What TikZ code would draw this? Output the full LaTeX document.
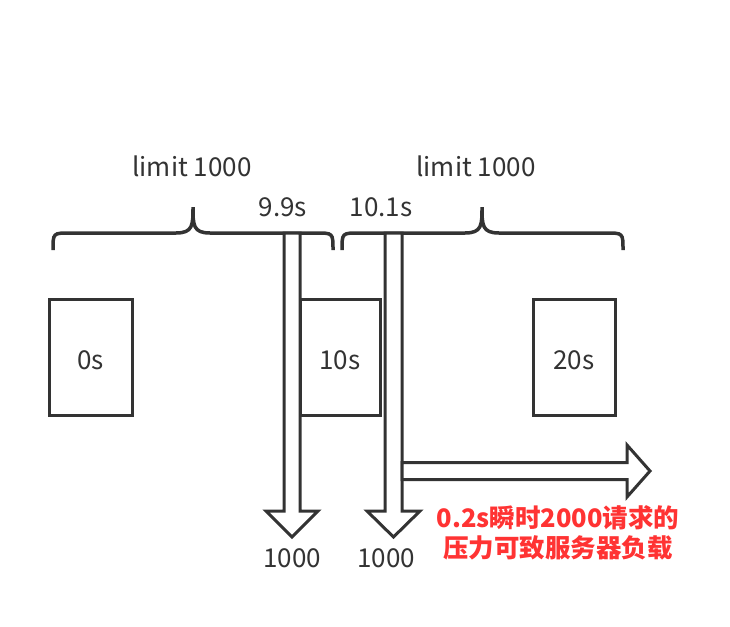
\documentclass[tikz,border=0pt]{standalone}
\usepackage{fontspec}
\setmainfont{Noto Sans CJK SC}
\definecolor{ln}{HTML}{333333}
\definecolor{rd}{HTML}{FF3333}
\begin{document}
\begin{tikzpicture}[x=1pt,y=-1pt]
\useasboundingbox[fill=white] (0,0) rectangle (730,626);
\tikzset{
  box/.style={draw=ln, fill=white, line width=3pt, minimum height=116pt, inner sep=0pt},
  lbl/.style={text=ln, inner sep=0pt, font=\fontsize{26}{30}\selectfont},
  note/.style={text=rd, inner sep=0pt, align=center, font=\bfseries\fontsize{25.5}{30}\selectfont},
  brace/.style={draw=ln, line width=3.5pt},
  blockarrow/.style={draw=ln, fill=white, line width=3pt, line join=miter}
}
% boxes
\node[box, minimum width=83pt] (b0) at (90.5,357) {};
\node[box, minimum width=80pt] (b10) at (340,357) {};
\node[box, minimum width=82pt] (b20) at (574,357) {};
\node[lbl] (b0t) at ([yshift=-3pt]b0.center) {0s};
\node[lbl] (b10t) at ([yshift=-3pt]b10.center) {10s};
\node[lbl] (b20t) at ([yshift=-3pt]b20.center) {20s};
% braces
\draw[brace] (53,250) .. controls (53,233) .. (70,233) -- (176,233)
  .. controls (193,233) and (193,225) .. (193,207)
  .. controls (193,225) and (193,233) .. (210,233) -- (316,233)
  .. controls (333,233) .. (333,250);
\draw[brace] (342,250) .. controls (342,233) .. (359,233) -- (465,233)
  .. controls (482,233) and (482,225) .. (482,207)
  .. controls (482,225) and (482,233) .. (499,233) -- (606,233)
  .. controls (623,233) .. (623,250);
% labels
\node[lbl] (l1) at (192,166) {limit 1000};
\node[lbl] (l2) at (476,166) {limit 1000};
\node[lbl] (t1) at (283,207) {9.9s};
\node[lbl] (t2) at (381,207) {10.1s};
% block arrows
\draw[blockarrow] (284,233) -- (284,511) -- (266,511) -- (292,537) -- (318,511) -- (300,511) -- (300,233) -- cycle;
\draw[blockarrow] (385,233) -- (385,511) -- (367,511) -- (393.5,537) -- (420,511) -- (402,511) -- (402,233) -- cycle;
\draw[blockarrow] (402,462.5) -- (627,462.5) -- (627,445) -- (650,471) -- (627,497) -- (627,479.5) -- (402,479.5) -- cycle;
% counts
\node[lbl] (c1) at (292,558) {1000};
\node[lbl] (c2) at (386,558) {1000};
% note
\node[note] (n) at (558,533) {0.2s瞬时2000请求的\\压力可致服务器负载};
\end{tikzpicture}
\end{document}
